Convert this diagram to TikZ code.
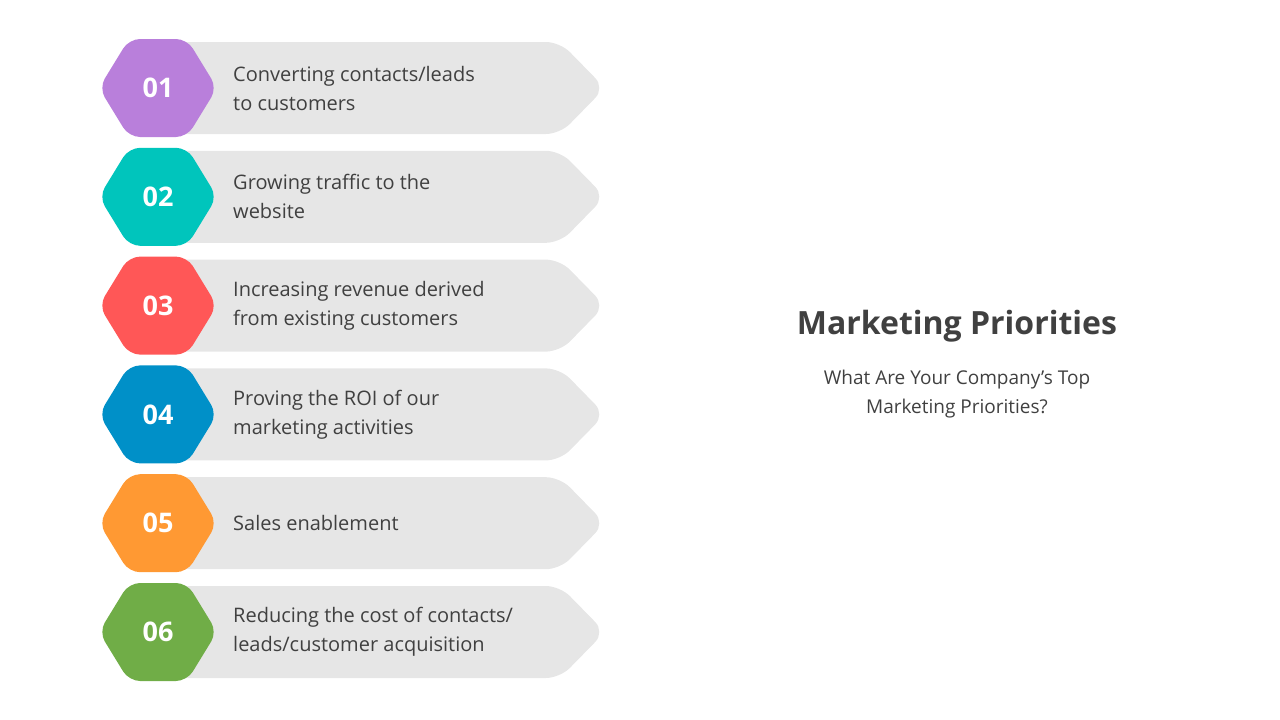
\documentclass[tikz,border=0pt]{standalone}
\usepackage{fontspec}
\setmainfont{Open Sans}
\definecolor{txt}{HTML}{404040}
\definecolor{band}{HTML}{E6E6E6}
\definecolor{c1}{HTML}{B97FDB}
\definecolor{c2}{HTML}{00C5BC}
\definecolor{c3}{HTML}{FF5757}
\definecolor{c4}{HTML}{0090C8}
\definecolor{c5}{HTML}{FF9933}
\definecolor{c6}{HTML}{70AD47}
\tikzset{
 lbl/.style={text=txt,font=\fontsize{20}{29}\selectfont,anchor=west,align=left,inner sep=0pt},
 num/.style={text=white,font=\fontsize{27}{30}\selectfont\bfseries,inner sep=0pt},
}
\begin{document}
\begin{tikzpicture}[x=1pt,y=-1pt]
\useasboundingbox (0,0) rectangle (1280,720);
\foreach \i/\c/\t in {1/c1/{Converting contacts/leads\\to customers},2/c2/{Growing traffic to the\\website},3/c3/{Increasing revenue derived\\from existing customers},4/c4/{Proving the ROI of our\\marketing activities},5/c5/{Sales enablement},6/c6/{Reducing the cost of contacts/\\leads/customer acquisition}}{
 \pgfmathsetmacro\y{88+(\i-1)*108.8}
 \fill[band,rounded corners=14pt] (170,\y-46) -- (560,\y-46) -- (605,\y) -- (560,\y+46) -- (170,\y+46) -- cycle;
 \fill[\c,rounded corners=11pt] (99,\y) -- (129,\y-49) -- (187,\y-49) -- (217,\y) -- (187,\y+49) -- (129,\y+49) -- cycle;
 \node[num] (n\i) at (158,\y) {0\i};
 \node[lbl] (t\i) at (233,\y) {\t};
}
\node[text=txt,font=\fontsize{32}{36}\selectfont\bfseries] (title) at (957,326) {Marketing Priorities};
\node[text=txt,font=\fontsize{19}{29}\selectfont,align=center] (sub) at (957,394) {What Are Your Company's Top\\Marketing Priorities?};
\end{tikzpicture}
\end{document}
